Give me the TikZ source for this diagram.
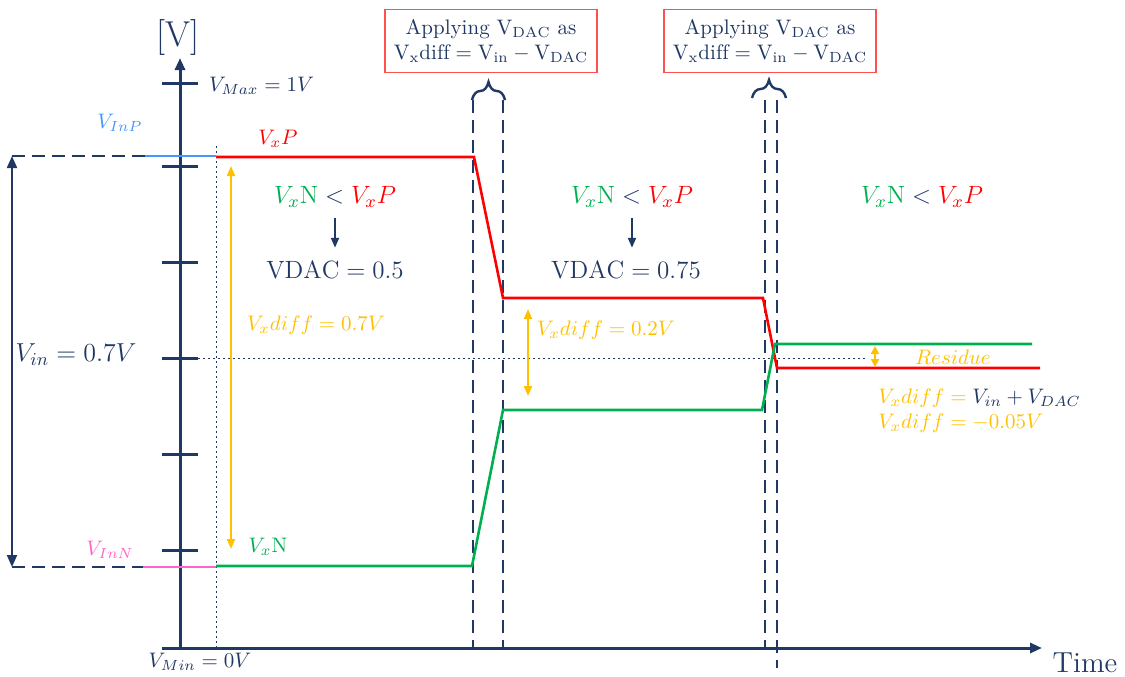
\RequirePackage{fix-cm}
\documentclass[tikz,border=0pt]{standalone}
\usepackage{fontspec}
\usetikzlibrary{arrows.meta,positioning}
\usetikzlibrary{decorations.pathreplacing}
\definecolor{navy}{RGB}{32,56,100}
\definecolor{vred}{RGB}{255,0,0}
\definecolor{vgreen}{RGB}{0,176,80}
\definecolor{vyellow}{RGB}{255,192,0}
\definecolor{inpblue}{RGB}{70,150,255}
\definecolor{innpink}{RGB}{255,100,200}
\definecolor{boxred}{RGB}{255,80,80}
\tikzset{
    x=0.5pt, y=-0.5pt, % one unit is one pixel of the sketch
    axis/.style={navy, line width=1.5pt},
    dashline/.style={navy, line width=1.3pt, dash pattern=on 6.5pt off 3.5pt},
    guide/.style={navy, line width=0.5pt, dash pattern=on 1pt off 1.5pt},
    vxp/.style={vred, line width=1.3pt},
    vxn/.style={vgreen, line width=1.3pt},
    diffarrow/.style={vyellow, line width=1pt, {Triangle[length=5pt,width=4pt]}-{Triangle[length=5pt,width=4pt]}},
    down/.style={navy, line width=1pt, -{Triangle[length=5pt,width=4pt]}, shorten <=2pt, shorten >=3pt},
    lbl/.style={font=\fontsize{10.5}{12.5}\selectfont, text=navy},
    cmp/.style={font=\fontsize{12.5}{15}\selectfont, text=navy},
    stepbox/.style={draw=boxred, line width=0.8pt, align=center, text=navy,
        font=\fontsize{10.5}{12.5}\selectfont, minimum width=106pt, minimum height=31.5pt},
    brace/.style={navy, line width=1.2pt, decorate, decoration={brace, amplitude=9pt}},
}

\begin{document}
\begin{tikzpicture}
  \useasboundingbox (0,0) rectangle (1125,676);

  % axes
  \draw[axis, -{Triangle[length=6pt,width=5pt]}] (180,648) -- (180,58);
  \draw[axis, -{Triangle[length=6pt,width=5pt]}] (162,648) -- (1042,648);
  \node[font=\fontsize{18}{20}\selectfont, text=navy] (v_axis) at (178,37) {[V]};
  \node[font=\fontsize{14.5}{16}\selectfont, text=navy] (time) at (1085,663) {Time};
  \foreach \y in {83,166,262,358,454,550}
    \draw[axis] (162,\y) -- (198,\y);
  \node[lbl, anchor=west] (v_max) at (202,86) {$V_{Max} = 1V$};
  \node[lbl] (v_min) at (200,662) {$V_{Min} = 0V$};

  % input levels
  \draw[dashline] (12,156) -- (145,156);
  \draw[inpblue, line width=1.3pt] (145,156) -- (216,156);
  \draw[dashline] (12,567) -- (143,567);
  \draw[innpink, line width=1.3pt] (143,567) -- (216,567);
  \node[lbl, text=inpblue] (v_inp) at (120,123) {$V_{InP}$};
  \node[lbl, text=innpink] (v_inn) at (110,550) {$V_{InN}$};
  \draw[navy, line width=1pt, {Triangle[length=6pt,width=5pt]}-{Triangle[length=6pt,width=5pt]}] (12,156) -- (12,567);
  \node[font=\fontsize{13}{15}\selectfont, text=navy] (v_in) at (76,355) {$V_{in} = 0.7V$};

  % guides
  \draw[guide] (216,146) -- (216,648);
  \draw[guide] (198,358) -- (868,358);

  % DAC steps
  \foreach \x/\b in {473/648,503/648,765/648,777/668}
    \draw[dashline] (\x,100) -- (\x,\b);
  \draw[brace] (472,100) -- (505,100);
  \draw[brace] (752,98) -- (786,98);
  \node[stepbox] (box_1) at (491,41) {Applying $\mathrm{V_{DAC}}$ as\\$\mathrm{V_x diff} = \mathrm{V_{in}} - \mathrm{V_{DAC}}$};
  \node[stepbox] (box_2) at (770,41) {Applying $\mathrm{V_{DAC}}$ as\\$\mathrm{V_x diff} = \mathrm{V_{in}} - \mathrm{V_{DAC}}$};

  % waveforms
  \draw[vxp] (216,157) -- (474,157) -- (503,298) -- (763,298) -- (777,368) -- (1040,368);
  \draw[vxn] (216,566) -- (472,566) -- (503,410) -- (762,410) -- (775,344) -- (1032,344);
  \node[lbl, text=vred] (vxp) at (278,139) {$V_xP$};
  \node[lbl, text=vgreen] (vxn) at (268,547) {$V_x\mathrm{N}$};

  % differences
  \draw[diffarrow] (231,166) -- (231,549);
  \node[lbl, text=vyellow] (diff_1) at (316,325) {$V_xdiff = 0.7V$};
  \draw[diffarrow] (528,309) -- (528,396);
  \node[lbl, text=vyellow] (diff_2) at (606,330) {$V_xdiff = 0.2V$};
  \draw[vyellow, line width=1pt, {Triangle[length=4pt,width=4pt]}-{Triangle[length=4pt,width=4pt]}] (875,346) -- (875,367);
  \node[lbl, text=vyellow] (res) at (953,357) {$Residue$};
  \node[lbl, anchor=west, text=vyellow, align=left, inner sep=1pt] (diff_3) at (876,411)
    {$V_xdiff = {\color{navy}V_{in} + V_{DAC}}$\\$V_xdiff = -0.05V$};

  % comparator decisions
  \node[cmp] (cmp_1) at (335,197) {$\textcolor{vgreen}{V_x\mathrm{N}} < \textcolor{vred}{V_xP}$};
  \node[cmp] (dac_1) at (335,270) {$\mathrm{VDAC} = 0.5$};
  \node[cmp] (cmp_2) at (632,197) {$\textcolor{vgreen}{V_x\mathrm{N}} < \textcolor{vred}{V_xP}$};
  \node[cmp] (dac_2) at (626,270) {$\mathrm{VDAC} = 0.75$};
  \node[cmp] (cmp_3) at (922,197) {$\textcolor{vgreen}{V_x\mathrm{N}} < \textcolor{vred}{V_xP}$};
  \path[down]
    (cmp_1) edge (dac_1)
    (cmp_2.south) edge (cmp_2.south |- dac_2.north);
\end{tikzpicture}
\end{document}
